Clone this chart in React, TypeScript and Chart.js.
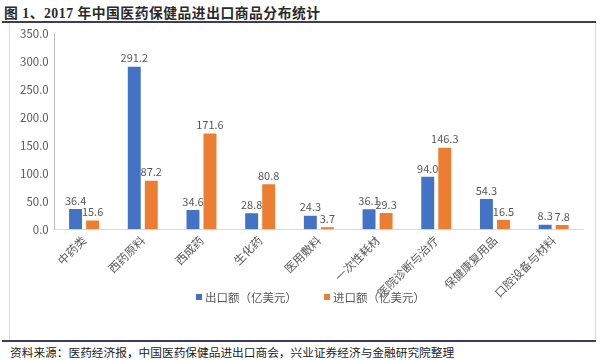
import React, { useEffect, useRef } from "react";
import { Chart, registerables } from "chart.js";

Chart.register(...registerables);

const categories = ["中药类", "西药原料", "西成药", "生化药", "医用敷料", "一次性耗材", "医院诊断与治疗", "保健康复用品", "口腔设备与材料"];
const exportValues = [36.4, 291.2, 34.6, 28.8, 24.3, 36.1, 94.0, 54.3, 8.3];
const importValues = [15.6, 87.2, 171.6, 80.8, 3.7, 29.3, 146.3, 16.5, 7.8];
const seriesNames = ["出口额（亿美元）", "进口额（亿美元）"];
const seriesColors = ["#4472C4", "#ED7D31"];

const FONT = '"Noto Sans CJK SC", "Noto Sans", sans-serif';
const GRAY = "#595959";

const valueLabels = {
  id: "valueLabels",
  afterDatasetsDraw(chart: any) {
    const ctx = chart.ctx;
    ctx.save();
    ctx.font = `11px ${FONT}`;
    ctx.fillStyle = GRAY;
    ctx.textAlign = "center";
    ctx.textBaseline = "bottom";
    chart.data.datasets.forEach((ds: any, i: number) => {
      const meta = chart.getDatasetMeta(i);
      meta.data.forEach((el: any, j: number) => {
        ctx.fillText(Number(ds.data[j]).toFixed(1), el.x, el.y - 3);
      });
    });
    ctx.restore();
  },
};

export default function App() {
  const ref = useRef<HTMLCanvasElement>(null);
  useEffect(() => {
    const chart = new Chart(ref.current!, {
      type: "bar",
      data: {
        labels: categories,
        datasets: [
          { label: seriesNames[0], data: exportValues, backgroundColor: seriesColors[0], categoryPercentage: 0.58, barPercentage: 0.76 },
          { label: seriesNames[1], data: importValues, backgroundColor: seriesColors[1], categoryPercentage: 0.58, barPercentage: 0.76 },
        ],
      },
      options: {
        responsive: true,
        maintainAspectRatio: false,
        animation: false,
        layout: { padding: { top: 4, right: 12, bottom: 35, left: 8 } },
        plugins: { legend: { display: false }, tooltip: { enabled: false } },
        scales: {
          x: {
            grid: { display: false, drawTicks: false },
            border: { color: "#d9d9d9", width: 1 },
            ticks: { color: GRAY, font: { family: FONT, size: 11.5 }, maxRotation: 45, minRotation: 45, autoSkip: false, padding: 4 },
          },
          y: {
            min: 0,
            max: 350,
            grid: { display: false, drawOnChartArea: false, drawTicks: true, tickLength: 4, color: "#bfbfbf" },
            border: { color: "#bfbfbf", width: 1 },
            ticks: { stepSize: 50, color: GRAY, font: { family: FONT, size: 11.5 }, callback: (v: any) => Number(v).toFixed(1), padding: 2 },
          },
        },
      },
      plugins: [valueLabels],
    });
    return () => chart.destroy();
  }, []);

  return (
    <div style={{ position: "absolute", left: 0, top: 0, width: 603, height: 360, background: "#fff", fontFamily: FONT }}>
      <div style={{ position: "absolute", left: 4, top: 2, fontFamily: '"Liberation Serif", "Noto Sans CJK SC", serif', fontWeight: 700, fontSize: 13.8, color: "#2a2a2a", whiteSpace: "nowrap", letterSpacing: 0.5 }}>
        图 1、2017 年中国医药保健品进出口商品分布统计
      </div>
      <div style={{ position: "absolute", left: 2, top: 21, width: 594, height: 2, background: "#3b3b64" }} />
      <div style={{ position: "absolute", left: 9, top: 23, width: 587, height: 317, borderLeft: "1px solid #d9d9d9", borderRight: "1px solid #d9d9d9", boxSizing: "border-box" }} />
      <div style={{ position: "absolute", left: 10, top: 25, width: 585, height: 314 }}>
        <canvas ref={ref} />
      </div>
      <div style={{ position: "absolute", left: 196, top: 289, display: "flex", alignItems: "center", fontSize: 11.5, color: GRAY, whiteSpace: "nowrap" }}>
        <span style={{ display: "inline-block", width: 6, height: 6, background: seriesColors[0], marginRight: 3 }} />
        <span>{seriesNames[0]}</span>
        <span style={{ display: "inline-block", width: 6, height: 6, background: seriesColors[1], marginLeft: 27, marginRight: 3 }} />
        <span>{seriesNames[1]}</span>
      </div>
      <div style={{ position: "absolute", left: 2, top: 340, width: 594, height: 2, background: "#3b3b64" }} />
      <div style={{ position: "absolute", left: 10, top: 343, fontSize: 11.7, color: "#222", whiteSpace: "nowrap", fontFamily: '"Noto Sans CJK SC", serif' }}>
        资料来源：医药经济报，中国医药保健品进出口商会，兴业证券经济与金融研究院整理
      </div>
    </div>
  );
}
